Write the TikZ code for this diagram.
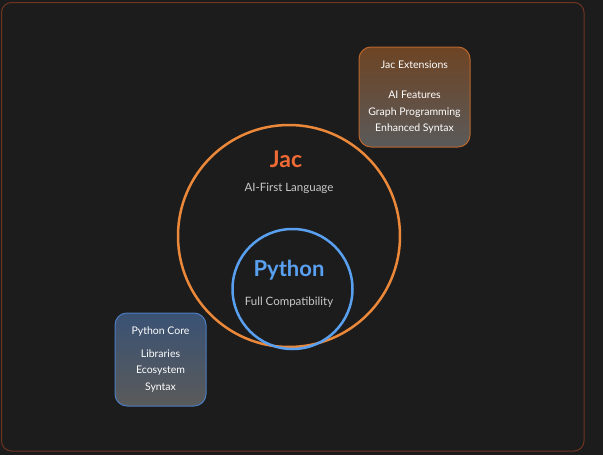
\documentclass[tikz,border=0pt]{standalone}
\usepackage{fontspec}
\setmainfont{Lato}
\usepackage{tikz}

\definecolor{bgdark}{HTML}{1C1C1C}
\definecolor{frameline}{HTML}{6E3422}
\definecolor{jacorange}{HTML}{EC8839}
\definecolor{jactext}{HTML}{F06A35}
\definecolor{pyblue}{HTML}{5AA0F0}
\definecolor{softgrey}{HTML}{C8C8C8}
\definecolor{extline}{HTML}{B8662E}
\definecolor{exttop}{HTML}{6E4424}
\definecolor{corebottom}{HTML}{5A5A5A}
\definecolor{coreline}{HTML}{4C7CC0}
\definecolor{coretop}{HTML}{3A5274}

\tikzset{
  infobox/.style={shape=rectangle, rounded corners=12pt, line width=1pt,
    align=center, text=white, font=\fontsize{10.5}{16.5}\selectfont,
    bottom color=corebottom},
  ringlabel/.style={text=softgrey, font=\fontsize{11.5}{14}\selectfont}
}

\begin{document}
\begin{tikzpicture}[x=1pt, y=-1pt]
			\fill[bgdark] (0,0) rectangle (603,455);
			\useasboundingbox (0,0) rectangle (603,455);
			\draw[frameline, line width=1pt, rounded corners=10pt] (1.5,2.5) rectangle (584,451);
			
			\node[shape=circle, draw=jacorange, line width=2.5pt, minimum size=222pt, inner sep=0pt] (jac) at (289,236) {};
			\node[shape=circle, draw=pyblue, line width=2.5pt, minimum size=120pt, inner sep=0pt] (py) at (292.5,289) {};
			
			\node[text=jactext, font=\bfseries\fontsize{23}{26}\selectfont] (jacname) at (286,159) {Jac};
			\node[ringlabel] (jacsub) at (289,188) {AI-First Language};
			\node[text=pyblue, font=\bfseries\fontsize{22}{25}\selectfont] (pyname) at (289,270) {Python};
			\node[ringlabel] (pysub) at (289,302) {Full Compatibility};
			
			\node[infobox, draw=extline, top color=exttop, minimum width=111pt, minimum height=100pt] (ext) at (414.5,97) {Jac Extensions\\[14pt] AI Features\\ Graph Programming\\ Enhanced Syntax};
			\node[infobox, draw=coreline, top color=coretop, minimum width=91pt, minimum height=93pt] (core) at (160.5,359.5) {Python Core\\[6pt] Libraries\\ Ecosystem\\ Syntax};
		\end{tikzpicture}
\end{document}
